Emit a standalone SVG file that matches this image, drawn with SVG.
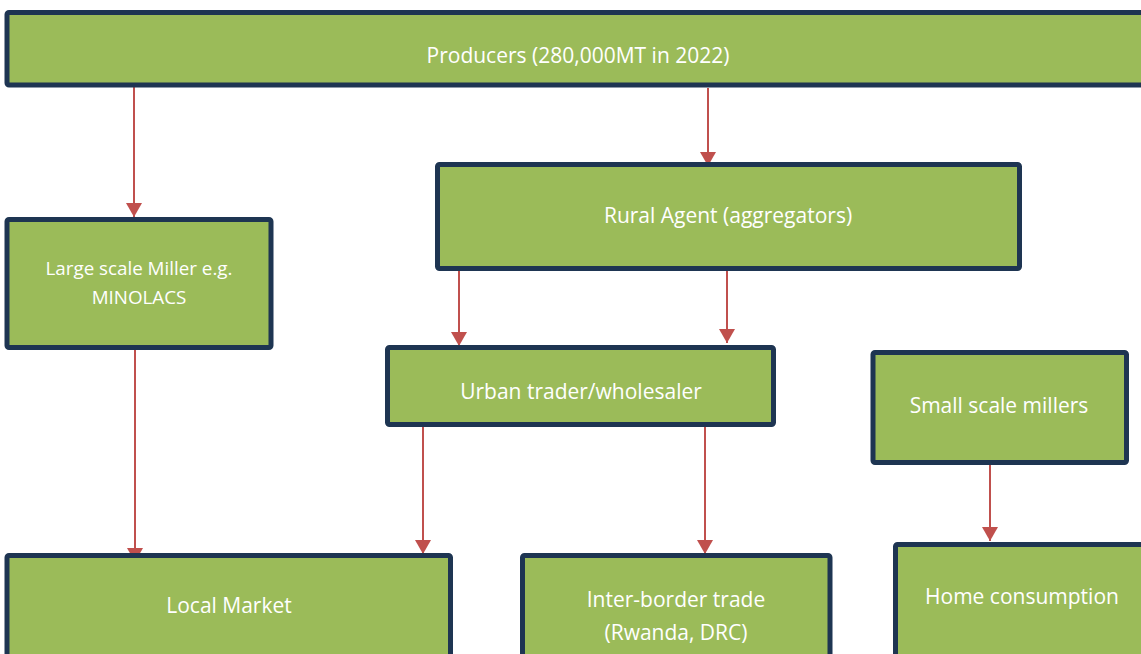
<svg xmlns="http://www.w3.org/2000/svg" width="1141" height="654" viewBox="0 0 1141 654">
<defs>
<style>
.box{fill:#9BBB59;stroke:#1E3552;stroke-width:5;stroke-linejoin:round}
.t{fill:#FFFFFF;font-family:"Open Sans","Noto Sans",sans-serif;font-size:21px;text-anchor:middle;dominant-baseline:central}
.ts{font-size:18.8px}
.c{stroke:#C0504D;stroke-width:2;fill:none}
</style>
<marker id="ah" markerUnits="userSpaceOnUse" markerWidth="16" markerHeight="16" viewBox="0 0 16 16" refX="14" refY="8" orient="auto">
<path d="M0,0 L14,8 L0,16 Z" fill="#C0504D"/>
</marker>
</defs>
<g id="connectors">
<line class="c" x1="134" y1="87" x2="134" y2="217" marker-end="url(#ah)"/>
<line class="c" x1="708" y1="88" x2="708" y2="166" marker-end="url(#ah)"/>
<line class="c" x1="459" y1="271" x2="459" y2="346" marker-end="url(#ah)"/>
<line class="c" x1="727" y1="267" x2="727" y2="343" marker-end="url(#ah)"/>
<line class="c" x1="135" y1="350" x2="135" y2="562" marker-end="url(#ah)"/>
<line class="c" x1="423" y1="426" x2="423" y2="554" marker-end="url(#ah)"/>
<line class="c" x1="705" y1="426" x2="705" y2="554" marker-end="url(#ah)"/>
<line class="c" x1="990" y1="465" x2="990" y2="541" marker-end="url(#ah)"/>
</g>
<g id="producers">
<rect class="box" x="7" y="12.5" width="1140" height="72.5" rx="2"/>
<text class="t" x="578" y="55">Producers (280,000MT in 2022)</text>
</g>
<g id="large-miller">
<rect class="box" x="7" y="219.5" width="264" height="128" rx="2"/>
<text class="t ts" x="139" y="268">Large scale Miller e.g.</text>
<text class="t ts" x="139" y="297">MINOLACS</text>
</g>
<g id="rural-agent">
<rect class="box" x="437.5" y="164.5" width="582" height="104" rx="2"/>
<text class="t" x="728" y="215">Rural Agent (aggregators)</text>
</g>
<g id="urban-trader">
<rect class="box" x="387.5" y="347.5" width="386" height="77" rx="2"/>
<text class="t" x="581" y="391">Urban trader/wholesaler</text>
</g>
<g id="small-millers">
<rect class="box" x="873" y="352.5" width="253.5" height="110" rx="2"/>
<text class="t" x="999" y="405">Small scale millers</text>
</g>
<g id="local-market">
<rect class="box" x="7" y="555.5" width="443.5" height="110" rx="2"/>
<text class="t" x="229" y="605">Local Market</text>
</g>
<g id="inter-border">
<rect class="box" x="522.5" y="555.5" width="307.5" height="110" rx="2"/>
<text class="t" x="676" y="599">Inter-border trade</text>
<text class="t" x="676" y="632">(Rwanda, DRC)</text>
</g>
<g id="home-consumption">
<rect class="box" x="895.5" y="544.5" width="260" height="120" rx="2"/>
<text class="t" x="1022" y="596">Home consumption</text>
</g>
</svg>
